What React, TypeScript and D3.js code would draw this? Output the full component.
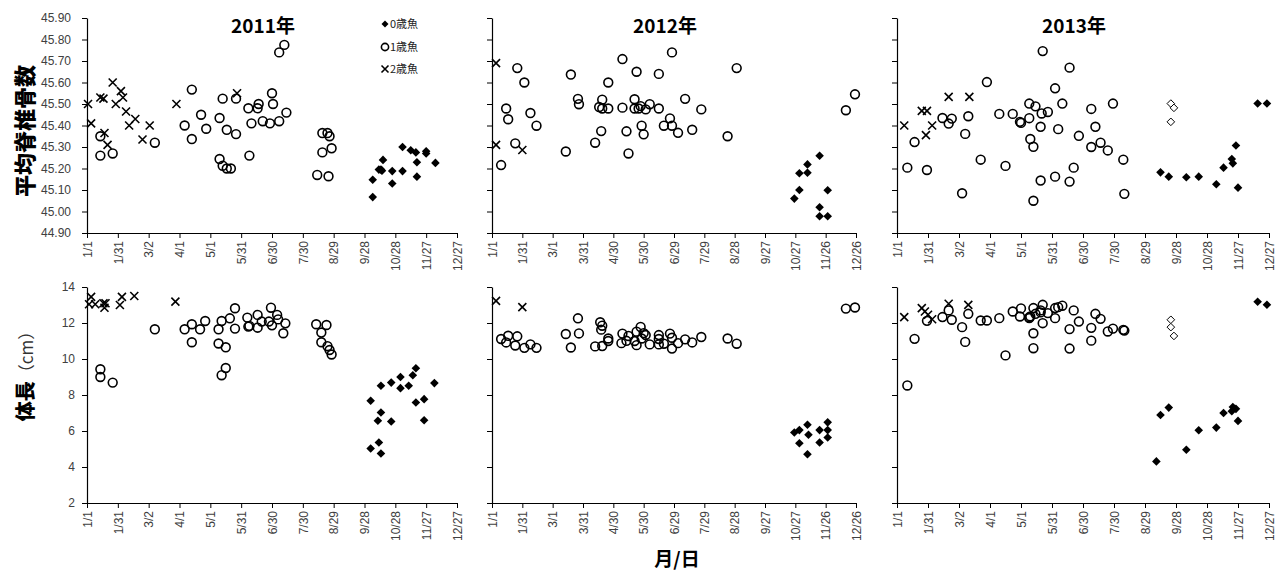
import React, { useEffect, useRef } from 'react';
import * as d3 from 'd3';

// [day of year (0 = 1/1), value]
type Pt = [number, number];

const years = [2011, 2012, 2013];
const ageLabels = ['0歳魚', '1歳魚', '2歳魚'];
const vertTicks = d3.range(0, 11).map(i => +(44.9 + i * 0.1).toFixed(2));
const lenTicks = [2, 4, 6, 8, 10, 12, 14];
const dayTicks = d3.range(0, 361, 30);

// 2011 mean vertebrae
const vert2011Age0: Pt[] = [[278, 45.067], [278, 45.148], [284, 45.195], [286, 45.195], [288, 45.24], [287, 45.19], [297, 45.188], [297, 45.13], [307, 45.3], [307, 45.188], [315, 45.285], [320, 45.275], [321, 45.229], [321, 45.162], [330, 45.27], [330, 45.28], [339, 45.226]];
const vert2011Age1: Pt[] = [[13, 45.26], [13, 45.35], [25, 45.27], [66, 45.32], [95, 45.4], [102, 45.567], [102, 45.337], [111, 45.45], [116, 45.385], [129, 45.435], [129, 45.244], [132, 45.525], [132, 45.213], [136, 45.38], [136, 45.2], [140, 45.2], [145, 45.36], [145, 45.525], [157, 45.48], [158, 45.26], [160, 45.41], [166, 45.48], [167, 45.5], [171, 45.42], [178, 45.41], [180, 45.55], [181, 45.5], [187, 45.42], [187, 45.74], [192, 45.775], [194, 45.46], [224, 45.17], [229, 45.275], [229, 45.365], [234, 45.365], [236, 45.35], [235, 45.164], [238, 45.294]];
const vert2011Age2: Pt[] = [[1, 45.5], [4, 45.41], [13, 45.53], [16, 45.525], [17, 45.365], [20, 45.31], [25, 45.6], [28, 45.5], [33, 45.56], [35, 45.53], [38, 45.465], [41, 45.4], [47, 45.43], [54, 45.335], [61, 45.4], [87, 45.5], [146, 45.55]];

// 2011 body length
const len2011Age0: Pt[] = [[276, 7.68], [276, 5.03], [284, 5.36], [283, 6.57], [286, 7.03], [286, 8.51], [286, 4.75], [296, 6.53], [296, 8.69], [305, 9.0], [305, 8.38], [313, 8.51], [317, 9.1], [320, 9.49], [320, 7.58], [328, 7.77], [328, 6.6], [338, 8.66]];
const len2011Age1: Pt[] = [[13, 9.43], [13, 9.0], [25, 8.69], [66, 11.65], [95, 11.65], [102, 11.93], [102, 10.93], [110, 11.65], [115, 12.11], [128, 11.65], [131, 12.11], [128, 10.86], [135, 10.65], [131, 9.1], [135, 9.5], [139, 12.26], [144, 12.82], [144, 11.69], [156, 12.3], [157, 11.8], [158, 11.84], [166, 12.45], [166, 11.74], [170, 12.08], [177, 12.08], [179, 12.85], [180, 11.87], [185, 12.45], [186, 12.2], [191, 11.43], [193, 11.98], [223, 11.93], [228, 11.47], [228, 10.93], [233, 11.89], [234, 10.71], [236, 10.5], [238, 10.25]];
const len2011Age2: Pt[] = [[4, 13.45], [2, 13.04], [8, 13.04], [16, 13.1], [17, 12.85], [18, 13.1], [32, 13.0], [34, 13.45], [46, 13.5], [86, 13.19]];

// 2012 mean vertebrae
const vert2012Age0: Pt[] = [[299, 45.06], [304, 45.1], [304, 45.178], [312, 45.219], [312, 45.18], [324, 45.259], [324, 45.02], [324, 44.978], [332, 45.099], [332, 44.978]];
const vert2012Age1: Pt[] = [[9, 45.216], [14, 45.479], [16, 45.429], [23, 45.317], [25, 45.667], [32, 45.6], [38, 45.458], [44, 45.399], [73, 45.279], [78, 45.637], [85, 45.524], [86, 45.499], [102, 45.32], [106, 45.486], [108, 45.374], [109, 45.52], [109, 45.479], [115, 45.6], [115, 45.479], [129, 45.483], [129, 45.709], [133, 45.373], [135, 45.27], [141, 45.522], [141, 45.479], [143, 45.65], [145, 45.479], [147, 45.49], [148, 45.399], [150, 45.359], [152, 45.475], [156, 45.499], [165, 45.64], [165, 45.479], [170, 45.399], [176, 45.433], [178, 45.74], [178, 45.399], [184, 45.366], [191, 45.524], [198, 45.38], [207, 45.475], [233, 45.35], [242, 45.667], [350, 45.471], [359, 45.545]];
const vert2012Age2: Pt[] = [[4, 45.69], [4, 45.31], [30, 45.286]];

// 2012 body length
const len2012Age0: Pt[] = [[299, 5.92], [304, 6.05], [304, 5.32], [312, 6.35], [313, 5.79], [312, 4.71], [324, 6.05], [324, 5.36], [332, 6.48], [332, 6.05], [332, 5.64]];
const len2012Age1: Pt[] = [[9, 11.11], [14, 10.92], [16, 11.29], [23, 10.75], [25, 11.26], [32, 10.62], [38, 10.81], [44, 10.62], [73, 11.39], [78, 10.64], [85, 12.26], [86, 11.42], [102, 10.7], [107, 12.04], [109, 10.72], [109, 11.85], [108, 11.63], [115, 11.14], [115, 11.0], [129, 11.41], [128, 10.88], [133, 11.01], [135, 11.28], [141, 11.0], [143, 11.52], [143, 10.77], [147, 11.78], [148, 11.14], [150, 11.44], [152, 11.33], [156, 10.81], [165, 11.33], [165, 11.11], [165, 10.81], [170, 10.85], [176, 11.41], [178, 11.18], [178, 10.58], [184, 10.88], [191, 11.09], [198, 10.92], [207, 11.22], [233, 11.14], [242, 10.85], [350, 12.8], [359, 12.86]];
const len2012Age2: Pt[] = [[4, 13.23], [30, 12.88]];

// 2013 mean vertebrae
const vert2013Age0: Pt[] = [[255, 45.182], [263, 45.162], [280, 45.159], [292, 45.162], [309, 45.127], [316, 45.204], [324, 45.244], [325, 45.224], [328, 45.307], [330, 45.111], [349, 45.502], [358, 45.502]];
const vert2013Open: Pt[] = [[265, 45.502], [268, 45.482], [265, 45.417]];
const vert2013Age1: Pt[] = [[10, 45.204], [17, 45.323], [29, 45.193], [44, 45.435], [50, 45.409], [53, 45.432], [63, 45.085], [66, 45.361], [69, 45.443], [81, 45.241], [87, 45.602], [99, 45.454], [105, 45.212], [112, 45.454], [119, 45.417], [120, 45.412], [128, 45.434], [128, 45.502], [129, 45.337], [132, 45.301], [132, 45.05], [134, 45.489], [139, 45.394], [139, 45.144], [141, 45.746], [140, 45.456], [146, 45.463], [153, 45.573], [153, 45.162], [156, 45.383], [160, 45.502], [167, 45.139], [167, 45.669], [171, 45.204], [176, 45.352], [188, 45.3], [188, 45.477], [192, 45.394], [197, 45.32], [204, 45.284], [209, 45.502], [219, 45.241], [220, 45.082]];
const vert2013Age2: Pt[] = [[7, 45.4], [24, 45.468], [29, 45.468], [28, 45.355], [34, 45.4], [50, 45.533], [70, 45.533]];

// 2013 body length
const len2013Age0: Pt[] = [[251, 4.31], [255, 6.89], [263, 7.3], [280, 4.96], [292, 6.04], [309, 6.19], [316, 7.0], [324, 7.1], [325, 7.33], [328, 7.23], [330, 6.56], [349, 13.18], [358, 13.01]];
const len2013Open: Pt[] = [[265, 12.18], [265, 11.77], [268, 11.28]];
const len2013Age1: Pt[] = [[10, 8.53], [17, 11.12], [29, 12.12], [44, 12.33], [50, 12.7], [53, 12.18], [63, 11.77], [66, 10.95], [69, 12.51], [81, 12.14], [87, 12.14], [99, 12.27], [105, 10.2], [112, 12.64], [119, 12.36], [120, 12.81], [128, 12.27], [128, 12.31], [129, 12.36], [132, 12.83], [132, 11.43], [132, 10.6], [134, 12.51], [139, 12.59], [139, 12.7], [141, 13.01], [141, 11.99], [146, 12.55], [153, 12.83], [153, 12.27], [156, 12.88], [160, 12.96], [167, 10.58], [167, 11.66], [171, 12.7], [176, 12.08], [188, 11.73], [188, 11.02], [192, 12.51], [197, 12.23], [204, 11.53], [209, 11.69], [219, 11.62], [220, 11.58]];
const len2013Age2: Pt[] = [[7, 12.33], [24, 12.83], [27, 12.64], [30, 12.46], [34, 12.21], [50, 13.07], [69, 13.01]];

const vertData = [
  { a0: vert2011Age0, a1: vert2011Age1, a2: vert2011Age2, open: [] as Pt[] },
  { a0: vert2012Age0, a1: vert2012Age1, a2: vert2012Age2, open: [] as Pt[] },
  { a0: vert2013Age0, a1: vert2013Age1, a2: vert2013Age2, open: vert2013Open },
];
const lenData = [
  { a0: len2011Age0, a1: len2011Age1, a2: len2011Age2, open: [] as Pt[] },
  { a0: len2012Age0, a1: len2012Age1, a2: len2012Age2, open: [] as Pt[] },
  { a0: len2013Age0, a1: len2013Age1, a2: len2013Age2, open: len2013Open },
];

const panelX = [[87, 457], [492, 856], [897, 1269]];
const topY = [233, 18];
const botY = [503, 287];

const JP = '"Noto Sans CJK JP", "Noto Sans", sans-serif';
const TICK_FONT = '"Liberation Sans", Arial, sans-serif';

const diamond = (r: number) => `M0,${-r}L${r},0L0,${r}L${-r},0Z`;

const App = () => {
  const ref = useRef<SVGSVGElement>(null);

  useEffect(() => {
    const svg = d3.select(ref.current);
    svg.selectAll('*').remove();

    const drawMarks = (g: any, sets: any, x: any, y: any) => {
      g.selectAll(null).data(sets.a1).enter().append('circle')
        .attr('cx', (d: Pt) => x(d[0])).attr('cy', (d: Pt) => y(d[1])).attr('r', 4.4)
        .attr('fill', 'none').attr('stroke', '#000').attr('stroke-width', 1.6);
      g.selectAll(null).data(sets.a2).enter().append('path')
        .attr('transform', (d: Pt) => `translate(${x(d[0])},${y(d[1])})`)
        .attr('d', 'M-4,-4L4,4M-4,4L4,-4')
        .attr('stroke', '#000').attr('stroke-width', 1.6).attr('fill', 'none');
      g.selectAll(null).data(sets.a0).enter().append('path')
        .attr('transform', (d: Pt) => `translate(${x(d[0])},${y(d[1])})`)
        .attr('d', diamond(4.3)).attr('fill', '#000');
      g.selectAll(null).data(sets.open).enter().append('path')
        .attr('transform', (d: Pt) => `translate(${x(d[0])},${y(d[1])})`)
        .attr('d', diamond(3.8)).attr('fill', '#fff').attr('stroke', '#000').attr('stroke-width', 1);
    };

    const styleAxis = (a: any) => {
      a.select('.domain').attr('stroke', '#000').attr('stroke-width', 1.2);
      a.selectAll('.tick line').attr('stroke', '#000');
      a.selectAll('text').attr('fill', '#404040').style('font-family', TICK_FONT).style('font-size', '12px');
    };

    years.forEach((year, i) => {
      const x = d3.scaleLinear().domain([0, 360]).range(panelX[i]);
      const fmt = d3.timeFormat('%-m/%-d');
      const dayLabel = (d: number) => fmt(new Date(year, 0, 1 + d));

      [
        { y: d3.scaleLinear().domain([44.9, 45.9]).range(topY), ticks: vertTicks, f: d3.format('.2f'), data: vertData[i], off: -16 },
        { y: d3.scaleLinear().domain([2, 14]).range(botY), ticks: lenTicks, f: d3.format('d'), data: lenData[i], off: -12 },
      ].forEach(row => {
        const base = row.y.range()[0];
        const ax = svg.append('g').attr('transform', `translate(0,${base})`)
          .call(d3.axisBottom(x).tickValues(dayTicks).tickSize(5).tickSizeOuter(0).tickFormat((d: any) => dayLabel(d)));
        ax.selectAll('text').attr('transform', 'rotate(-90)').attr('x', -8).attr('y', 0)
          .attr('dy', '0.35em').attr('text-anchor', 'end');
        styleAxis(ax);

        const ay = svg.append('g').attr('transform', `translate(${panelX[i][0]},0)`)
          .call(d3.axisLeft(row.y).tickValues(row.ticks).tickSize(5).tickSizeOuter(0)
            .tickFormat((d: any) => (i === 0 ? row.f(d) : '')));
        ay.selectAll('text').attr('x', row.off);
        styleAxis(ay);

        drawMarks(svg.append('g'), row.data, x, row.y);
      });

      svg.append('text').attr('x', (panelX[i][0] + panelX[i][1]) / 2 - 9).attr('y', 33)
        .attr('text-anchor', 'middle').style('font-family', JP).style('font-weight', 700)
        .style('font-size', '19px').text(`${year}年`);
    });

    // legend
    const lg = svg.append('g').attr('transform', 'translate(385,0)');
    const legendY = [24, 47, 69];
    lg.append('path').attr('transform', `translate(0,${legendY[0]})`).attr('d', diamond(3.5)).attr('fill', '#000');
    lg.append('circle').attr('cx', 0).attr('cy', legendY[1]).attr('r', 3.6)
      .attr('fill', 'none').attr('stroke', '#000').attr('stroke-width', 1.6);
    lg.append('path').attr('transform', `translate(0,${legendY[2]})`).attr('d', 'M-3.5,-3.5L3.5,3.5M-3.5,3.5L3.5,-3.5')
      .attr('stroke', '#000').attr('stroke-width', 1.6);
    lg.selectAll(null).data(ageLabels).enter().append('text')
      .attr('x', 5).attr('y', (_d: string, k: number) => legendY[k]).attr('dy', '0.35em')
      .style('font-family', JP).style('font-size', '11px').attr('fill', '#222').text((d: string) => d);

    // axis titles
    svg.append('text').attr('transform', 'translate(33,131) rotate(-90)').attr('text-anchor', 'middle')
      .style('font-family', JP).style('font-weight', 900).style('font-size', '22px').text('平均脊椎骨数');
    const lt = svg.append('text').attr('transform', 'translate(33,372) rotate(-90)').attr('text-anchor', 'middle')
      .style('font-family', JP).style('font-size', '20px');
    lt.append('tspan').style('font-weight', 900).text('体長');
    lt.append('tspan').style('font-weight', 400).style('font-size', '17px').attr('fill', '#333').text('（cm）');
    svg.append('text').attr('x', 677).attr('y', 566).attr('text-anchor', 'middle')
      .style('font-family', JP).style('font-weight', 700).style('font-size', '19px').text('月/日');
  }, []);

  return (
    <svg ref={ref} width={1284} height={571} style={{ position: 'absolute', left: 0, top: 0, background: '#fff' }} />
  );
};

export default App;
